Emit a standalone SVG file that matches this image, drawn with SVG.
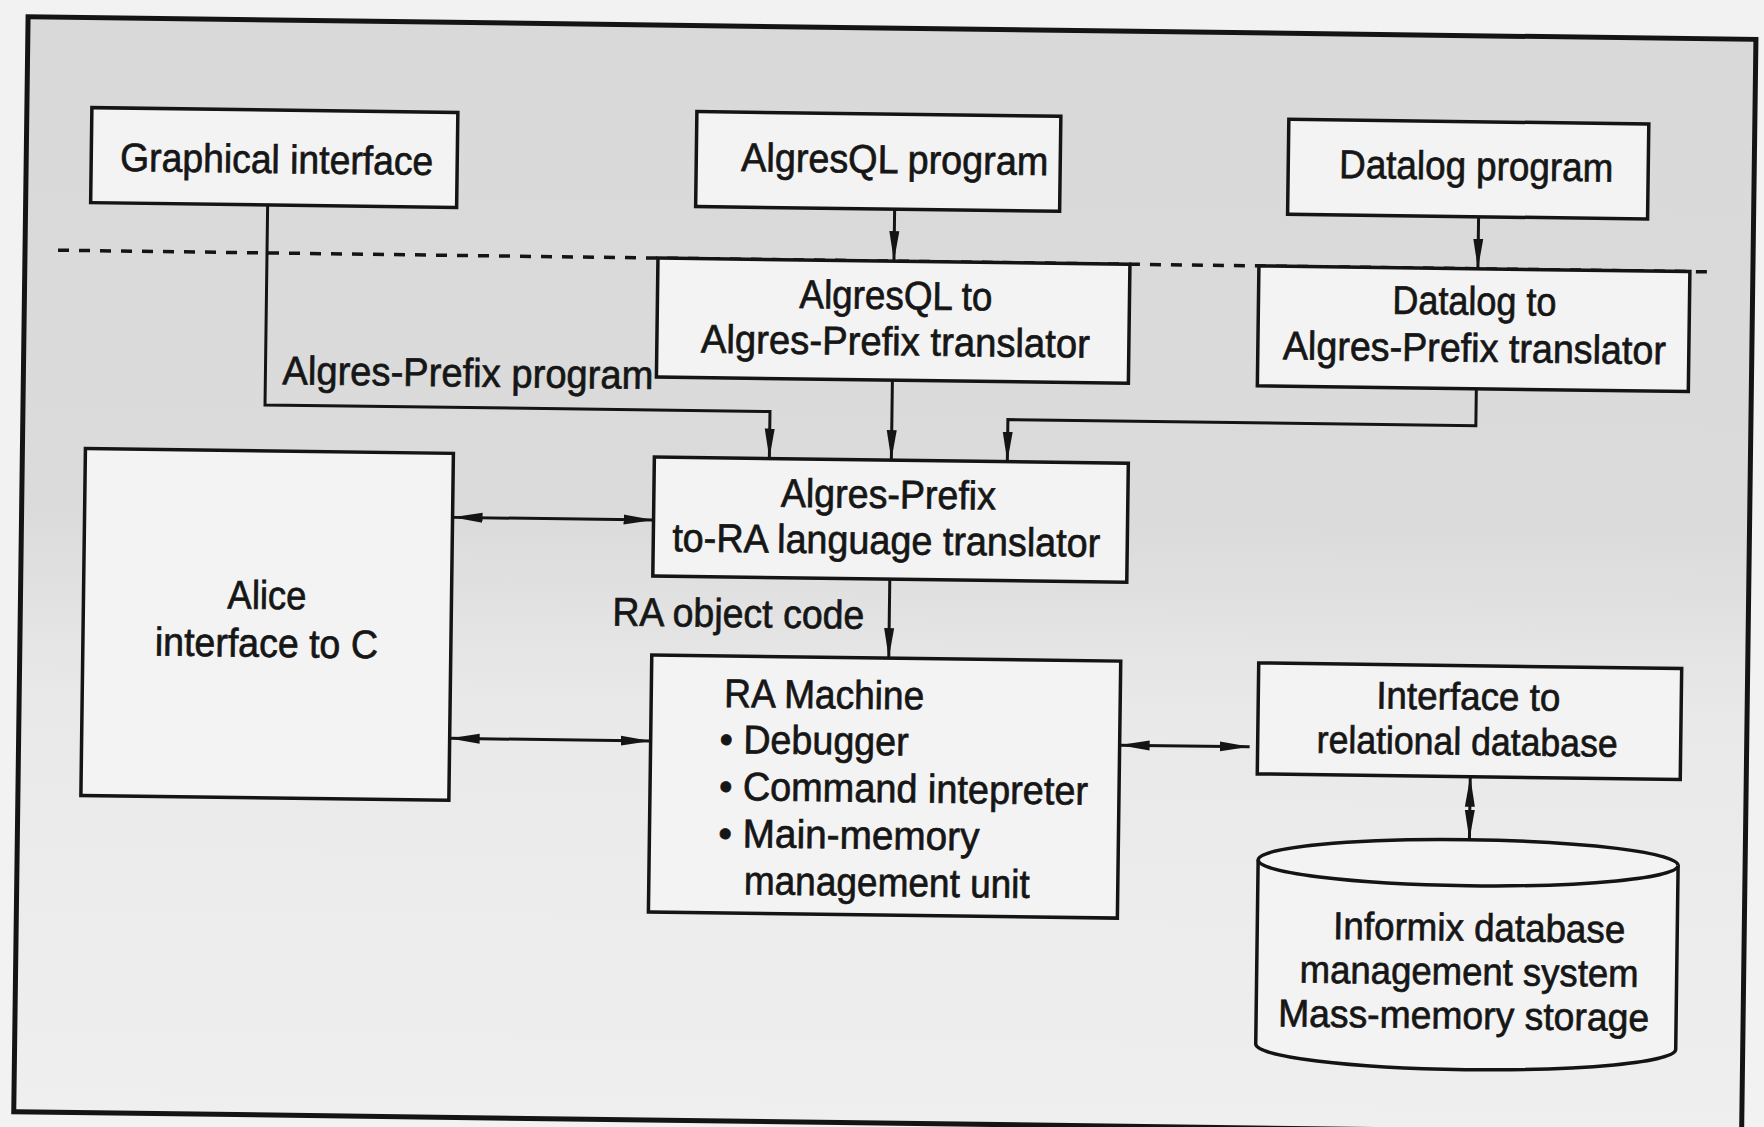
<svg xmlns="http://www.w3.org/2000/svg" width="1764" height="1127" viewBox="0 0 1764 1127">
<defs>
<linearGradient id="bg" x1="0" y1="0" x2="0" y2="1">
<stop offset="0" stop-color="#d9d9d9"/>
<stop offset="0.45" stop-color="#dbdbdb"/>
<stop offset="0.62" stop-color="#e9e9e9"/>
<stop offset="1" stop-color="#efefef"/>
</linearGradient>
<marker id="ah" markerUnits="userSpaceOnUse" markerWidth="30" markerHeight="12" viewBox="0 0 30 12" refX="30" refY="6" orient="auto-start-reverse">
<path d="M0,1 L30,6 L0,11 z" fill="#141414"/>
</marker>
<style>
.box{fill:#f3f3f3;stroke:#141414;stroke-width:3.5}
.t{font-family:"Liberation Sans",Arial,sans-serif;font-size:40px;fill:#161616;stroke:#161616;stroke-width:0.7}
.s{font-size:38.5px}
.c{fill:none;stroke:#141414;stroke-width:3}
.dash{fill:none;stroke:#141414;stroke-width:3.5;stroke-dasharray:11 10}
</style>
</defs>
<rect x="0" y="0" width="1764" height="1127" fill="#f2f2f2"/>
<g transform="rotate(0.75 882 563)">
<rect id="frame" x="21" y="28" width="1728" height="1095" fill="url(#bg)" stroke="#141414" stroke-width="5"/>
<line class="dash" x1="54" y1="261" x2="1712" y2="261"/>

<g id="graphical-interface">
<rect class="box" x="86" y="118" width="366" height="95"/>
<text class="t" x="115" y="181" textLength="313" lengthAdjust="spacingAndGlyphs">Graphical interface</text>
</g>
<g id="algresql-program">
<rect class="box" x="691" y="114" width="364" height="95"/>
<text class="t" x="736" y="173" textLength="307" lengthAdjust="spacingAndGlyphs">AlgresQL program</text>
</g>
<g id="datalog-program">
<rect class="box" x="1283" y="114" width="360" height="95"/>
<text class="t" x="1334" y="172" textLength="274" lengthAdjust="spacingAndGlyphs">Datalog program</text>
</g>
<g id="algresql-translator">
<rect class="box" x="654" y="261" width="472" height="119"/>
<text class="t" x="796" y="309" textLength="193" lengthAdjust="spacingAndGlyphs">AlgresQL to</text>
<text class="t" x="698" y="355" textLength="389" lengthAdjust="spacingAndGlyphs">Algres-Prefix translator</text>
</g>
<g id="datalog-translator">
<rect class="box" x="1255" y="261" width="431" height="120"/>
<text class="t" x="1389" y="307" textLength="164" lengthAdjust="spacingAndGlyphs">Datalog to</text>
<text class="t" x="1280" y="354" textLength="383" lengthAdjust="spacingAndGlyphs">Algres-Prefix translator</text>
</g>
<g id="prefix-to-ra">
<rect class="box" x="653" y="460" width="474" height="119"/>
<text class="t" x="780" y="508" textLength="215" lengthAdjust="spacingAndGlyphs">Algres-Prefix</text>
<text class="t" x="672" y="554" textLength="428" lengthAdjust="spacingAndGlyphs">to-RA language translator</text>
</g>
<g id="alice">
<rect class="box" x="84" y="459" width="368" height="347"/>
<text class="t" x="228" y="617" textLength="79" lengthAdjust="spacingAndGlyphs">Alice</text>
<text class="t" x="156" y="665" textLength="223" lengthAdjust="spacingAndGlyphs">interface to C</text>
</g>
<g id="ra-machine">
<rect class="box" x="653" y="658" width="469" height="257"/>
<text class="t" x="726" y="709" textLength="200" lengthAdjust="spacingAndGlyphs">RA Machine</text>
<text class="t" x="722" y="755" textLength="189" lengthAdjust="spacingAndGlyphs">• Debugger</text>
<text class="t" x="722" y="802" textLength="369" lengthAdjust="spacingAndGlyphs">• Command intepreter</text>
<text class="t" x="722" y="849" textLength="261" lengthAdjust="spacingAndGlyphs">• Main-memory</text>
<text class="t" x="748" y="896" textLength="286" lengthAdjust="spacingAndGlyphs">management unit</text>
</g>
<g id="relational-interface">
<rect class="box" x="1260" y="658" width="423" height="111"/>
<text class="t s" x="1378" y="702" textLength="184" lengthAdjust="spacingAndGlyphs">Interface to</text>
<text class="t s" x="1319" y="747" textLength="301" lengthAdjust="spacingAndGlyphs">relational database</text>
</g>
<g id="informix">
<path class="box" d="M1262,855 A210,23 0 0,1 1682,855 V1039 A210,23 0 0,1 1262,1039 Z"/>
<path class="box" fill="none" d="M1262,855 A210,23 0 0,0 1682,855"/>
<text class="t s" x="1338" y="933" textLength="292" lengthAdjust="spacingAndGlyphs">Informix database</text>
<text class="t s" x="1305" y="977" textLength="339" lengthAdjust="spacingAndGlyphs">management system</text>
<text class="t s" x="1284" y="1021" textLength="371" lengthAdjust="spacingAndGlyphs">Mass-memory storage</text>
</g>
<text class="t" x="280" y="392" textLength="371" lengthAdjust="spacingAndGlyphs">Algres-Prefix program</text>
<text class="t" x="613" y="629" textLength="252" lengthAdjust="spacingAndGlyphs">RA object code</text>

<g id="connectors">
<path class="c" d="M263,213 V413 H768 V460" marker-end="url(#ah)"/>
<path class="c" d="M890,209 V261" marker-end="url(#ah)"/>
<path class="c" d="M1474,209 V261" marker-end="url(#ah)"/>
<path class="c" d="M890,380 V460" marker-end="url(#ah)"/>
<path class="c" d="M1474,381 V418 H1006 V460" marker-end="url(#ah)"/>
<path class="c" d="M890,579 V658" marker-end="url(#ah)"/>
<path class="c" d="M452,523 H653" marker-start="url(#ah)" marker-end="url(#ah)"/>
<path class="c" d="M452,744 H653" marker-start="url(#ah)" marker-end="url(#ah)"/>
<path class="c" d="M1122,742 H1252" marker-start="url(#ah)" marker-end="url(#ah)"/>
<path class="c" d="M1473,769 V832" marker-start="url(#ah)" marker-end="url(#ah)"/>
</g>
</g>
</svg>
